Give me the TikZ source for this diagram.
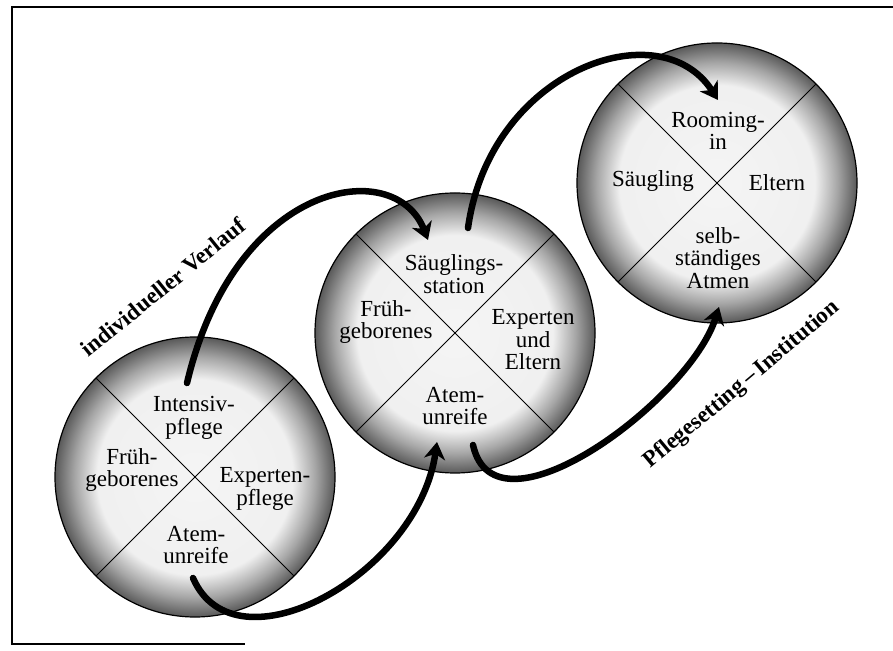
\documentclass[tikz,border=0pt]{standalone}
\usepackage{fontspec}
\setmainfont{Liberation Serif}
\usetikzlibrary{shapes}
\usetikzlibrary{arrows.meta}

\pgfdeclareradialshading{rand}{\pgfpoint{0bp}{0bp}}{color(0bp)=(black!4); color(17.5bp)=(black!6); color(21.5bp)=(black!35); color(25bp)=(black!65); color(50bp)=(black!65)}

\tikzset{
  stage/.style={circle,draw=black,line width=1.2pt,shade,shading=rand,minimum size=280pt,inner sep=0pt,outer sep=0pt},
  cross/.style={line width=1pt},
  txt/.style={align=center,inner sep=0pt,font=\fontsize{23}{22.5}\selectfont},
  lbl/.style={inner sep=0pt,font=\fontsize{23}{23}\selectfont\bfseries},
  flow/.style={line width=6.5pt,line cap=round,-{Stealth[length=17pt,width=21pt,inset=5pt]}}
}

\begin{document}
\begin{tikzpicture}[x=1pt,y=1pt]
\path[use as bounding box,fill=white] (0,0) rectangle (893,650);
\draw[line width=1.2pt] (893,643) -- (12,643) -- (12,6) -- (245,6);

% die drei Stationen
\node[stage] (links) at (195,173) {};
\node[stage] (mitte) at (455,317) {};
\node[stage] (rechts) at (717,467) {};

\foreach \n in {links,mitte,rechts}{
  \draw[cross] (\n.135) -- (\n.-45);
  \draw[cross] (\n.45) -- (\n.-135);
}

\node[txt] (intensiv) at (194,232) {Intensiv-\\pflege};
\node[txt] (fruehL) at (132,180) {Früh-\\geborenes};
\node[txt] (expertenL) at (265,161) {Experten-\\pflege};
\node[txt] (atemL) at (196,105) {Atem-\\unreife};

\node[txt] (station) at (454,376) {Säuglings-\\station};
\node[txt] (fruehM) at (386,328) {Früh-\\geborenes};
\node[txt] (expertenM) at (533,310) {Experten\\und\\Eltern};
\node[txt] (atemM) at (455,244) {Atem-\\unreife};

\node[txt] (rooming) at (718,519) {Rooming-\\in};
\node[txt] (saeugling) at (653,469) {Säugling};
\node[txt] (eltern) at (777,467) {Eltern};
\node[txt] (selbst) at (718,392) {selb-\\ständiges\\Atmen};

\node[lbl,rotate=39] (verlauf) at (163,363) {individueller Verlauf};
\node[lbl,rotate=40] (setting) at (742,265) {Pflegesetting\,--\,Institution};

% Verlauf oben
\coordinate (a1) at (187,267);
\coordinate (b1) at (428,410);
\coordinate (a2) at (468,422);
\coordinate (b2) at (718,550);
\draw[flow] (a1) .. controls (235,470) and (395,495) .. (b1);
\draw[flow] (a2) .. controls (490,580) and (660,640) .. (b2);

% Verlauf unten
\coordinate (a3) at (193,72);
\coordinate (b3) at (437,208);
\coordinate (a4) at (473,205);
\coordinate (b4) at (719,343);
\draw[flow] (a3) .. controls (235,-25) and (418,75) .. (b3);
\draw[flow] (a4) .. controls (495,105) and (690,250) .. (b4);
\end{tikzpicture}
\end{document}
